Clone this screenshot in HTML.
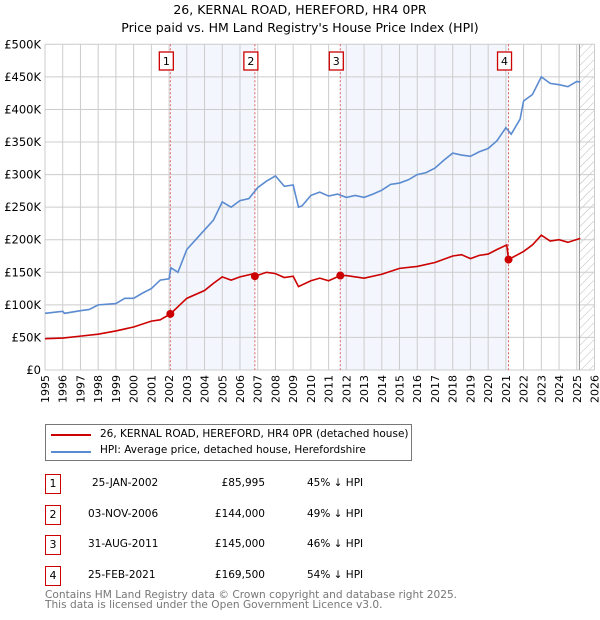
<!DOCTYPE html>
<html><head><meta charset="utf-8"><style>
body{margin:0;width:600px;height:620px;background:#fff;font-family:"DejaVu Sans","Liberation Sans",sans-serif;overflow:hidden;position:relative}
.t{position:absolute;font-size:10.5px;color:#000}
.box{position:absolute;width:14px;height:18px;border:1.3px solid #c00;font-size:11px;text-align:center;line-height:18px}
</style></head><body>
<div class="t" style="left:0;width:600px;text-align:center;top:1px;font-size:12.5px;line-height:18px">26, KERNAL ROAD, HEREFORD, HR4 0PR<br>Price paid vs. HM Land Registry's House Price Index (HPI)</div>
<svg id="c" width="600" height="410" style="position:absolute;left:0;top:0"></svg>
<div style="position:absolute;left:45px;top:424px;width:365px;height:35px;border:1.3px solid #777"></div>
<div style="position:absolute;left:51px;top:434px;width:40px;height:2px;background:#c00"></div>
<div class="t" style="left:100px;top:428px">26, KERNAL ROAD, HEREFORD, HR4 0PR (detached house)</div>
<div style="position:absolute;left:51px;top:451px;width:40px;height:2px;background:#5b8bd0"></div>
<div class="t" style="left:100px;top:444px">HPI: Average price, detached house, Herefordshire</div>
<div id="tbl"></div>
<div class="t" style="left:45px;top:590px;color:#777;line-height:10px;font-size:10.6px">Contains HM Land Registry data © Crown copyright and database right 2025.<br>This data is licensed under the Open Government Licence v3.0.</div>
<script>
const hpiX=[1995,1996,1996.1,1997,1997.5,1998,1999,1999.5,2000,2000.5,2001,2001.5,2002,2002.1,2002.5,2003,2003.5,2004,2004.5,2005,2005.5,2006,2006.5,2007,2007.5,2008,2008.5,2009,2009.3,2009.5,2010,2010.5,2011,2011.5,2012,2012.5,2013,2013.5,2014,2014.5,2015,2015.5,2016,2016.5,2017,2017.5,2018,2018.5,2019,2019.5,2020,2020.5,2021,2021.3,2021.8,2022,2022.5,2023,2023.5,2024,2024.5,2025,2025.2];
const hpiY=[87,90,87,91,93,100,102,110,110,118,125,138,140,157,150,185,200,215,230,258,250,260,263,280,290,298,282,284,250,252,268,273,267,270,265,268,265,270,276,285,287,292,300,303,310,322,333,330,328,335,340,352,372,362,385,413,423,450,440,438,435,443,442];
const ppX=[1995,1996,1997,1998,1999,2000,2001,2001.5,2002.07,2003,2004,2004.5,2005,2005.5,2006,2006.8,2006.84,2007.5,2008,2008.5,2009,2009.3,2010,2010.5,2011,2011.66,2012,2013,2014,2015,2016,2017,2018,2018.5,2019,2019.5,2020,2020.5,2021.05,2021.15,2022,2022.5,2023,2023.5,2024,2024.5,2025.2];
const ppY=[48,49,52,55,60,66,75,77,86,110,122,133,143,138,143,148,144,150,148,142,144,128,137,141,137,145,145,141,147,156,159,165,175,177,171,176,178,185,192,169.5,182,192,207,198,200,196,202];
const saleX=[2002.07,2006.84,2011.66,2021.15];
const saleY=[85.995,144,145,169.5];
const saleLabels=["1","2","3","4"];
const saleDates=["25-JAN-2002","03-NOV-2006","31-AUG-2011","25-FEB-2021"];
const salePrices=["£85,995","£144,000","£145,000","£169,500"];
const saleDiff=["45% ↓ HPI","49% ↓ HPI","46% ↓ HPI","54% ↓ HPI"];
const yTicks=[0,50,100,150,200,250,300,350,400,450,500];
const yLabels=["£0","£50K","£100K","£150K","£200K","£250K","£300K","£350K","£400K","£450K","£500K"];
const xTicks=[];for(let y=1995;y<=2026;y++)xTicks.push(y);
const X0=45,X1=594.5,Y0=370,Y1=44.3;
const sx=v=>X0+(v-1995)/31*(X1-X0), sy=v=>Y0-v/500*(Y0-Y1);
const svg=document.getElementById('c');const NS='http://www.w3.org/2000/svg';
function mk(t,a,p){const e=document.createElementNS(NS,t);for(const k in a)e.setAttribute(k,a[k]);(p||svg).appendChild(e);return e;}
let e;
e=mk('defs',{});e.innerHTML='<pattern id="h" width="6" height="6" patternUnits="userSpaceOnUse" patternTransform="rotate(45)"><line x1="0" y1="0" x2="0" y2="6" stroke="#bbb" stroke-width="1"/></pattern>';
e=mk('rect',{x:sx(saleX[0]),y:Y1,width:sx(saleX[1])-sx(saleX[0]),height:Y0-Y1,fill:'#f3f6fd'});

e=mk('rect',{x:sx(saleX[2]),y:Y1,width:sx(saleX[3])-sx(saleX[2]),height:Y0-Y1,fill:'#f3f6fd'});

e=mk('rect',{x:sx(2025.15),y:Y1,width:X1-sx(2025.15),height:Y0-Y1,fill:'url(#h)'});

yTicks.forEach((v,i)=>{e=mk('line',{x1:X0,x2:X1,y1:sy(v),y2:sy(v),stroke:'#ccc'});

e=mk('text',{x:X0-4,y:sy(v)+4,'text-anchor':'end','font-size':11.5});e.textContent=yLabels[i];
});
xTicks.forEach(v=>{e=mk('line',{x1:sx(v),x2:sx(v),y1:Y1,y2:Y0,stroke:'#ccc'});

e=mk('text',{x:0,y:0,'font-size':11,'text-anchor':'end',transform:`translate(${sx(v)+4},${Y0+5}) rotate(-90)`});e.textContent=v;
});
e=mk('line',{x1:sx(2025.15),x2:sx(2025.15),y1:Y1,y2:Y0,stroke:'#999'});

saleX.forEach((v,i)=>{e=mk('line',{x1:sx(v),x2:sx(v),y1:Y1,y2:Y0,stroke:'#e06060','stroke-dasharray':'2,2'});

e=mk('rect',{x:sx(v)-11,y:52,width:14,height:18,fill:'#fff',stroke:'#c00','stroke-width':1.3});

e=mk('text',{x:sx(v)-4,y:65,'text-anchor':'middle','font-size':11});e.textContent=saleLabels[i];
});
e=mk('polyline',{points:hpiX.map((x,i)=>sx(x)+','+sy(hpiY[i])).join(' '),fill:'none',stroke:'#5b8bd0','stroke-width':1.6});

e=mk('polyline',{points:ppX.map((x,i)=>sx(x)+','+sy(ppY[i])).join(' '),fill:'none',stroke:'#c00','stroke-width':1.6});

saleX.forEach((v,i)=>{e=mk('circle',{cx:sx(v),cy:sy(saleY[i]),r:4,fill:'#c00'});
});
const tbl=document.getElementById('tbl');
saleLabels.forEach((l,i)=>{const y=474+i*30.5;
let d=document.createElement('div');d.className='box';d.style.left='45px';d.style.top=y+'px';d.textContent=l;
tbl.appendChild(d);
[[saleDates[i],88,'left'],[salePrices[i],190,'right'],[saleDiff[i],312,'left']].forEach(([t,x,al])=>{
d=document.createElement('div');d.className='t';d.style.top=(y+3)+'px';
if(al=='right'){d.style.right=(600-265)+'px';}else d.style.left=(x===88?(i==0?92:88):x-5)+'px';
d.textContent=t;tbl.appendChild(d);});});
</script>
</body></html>
